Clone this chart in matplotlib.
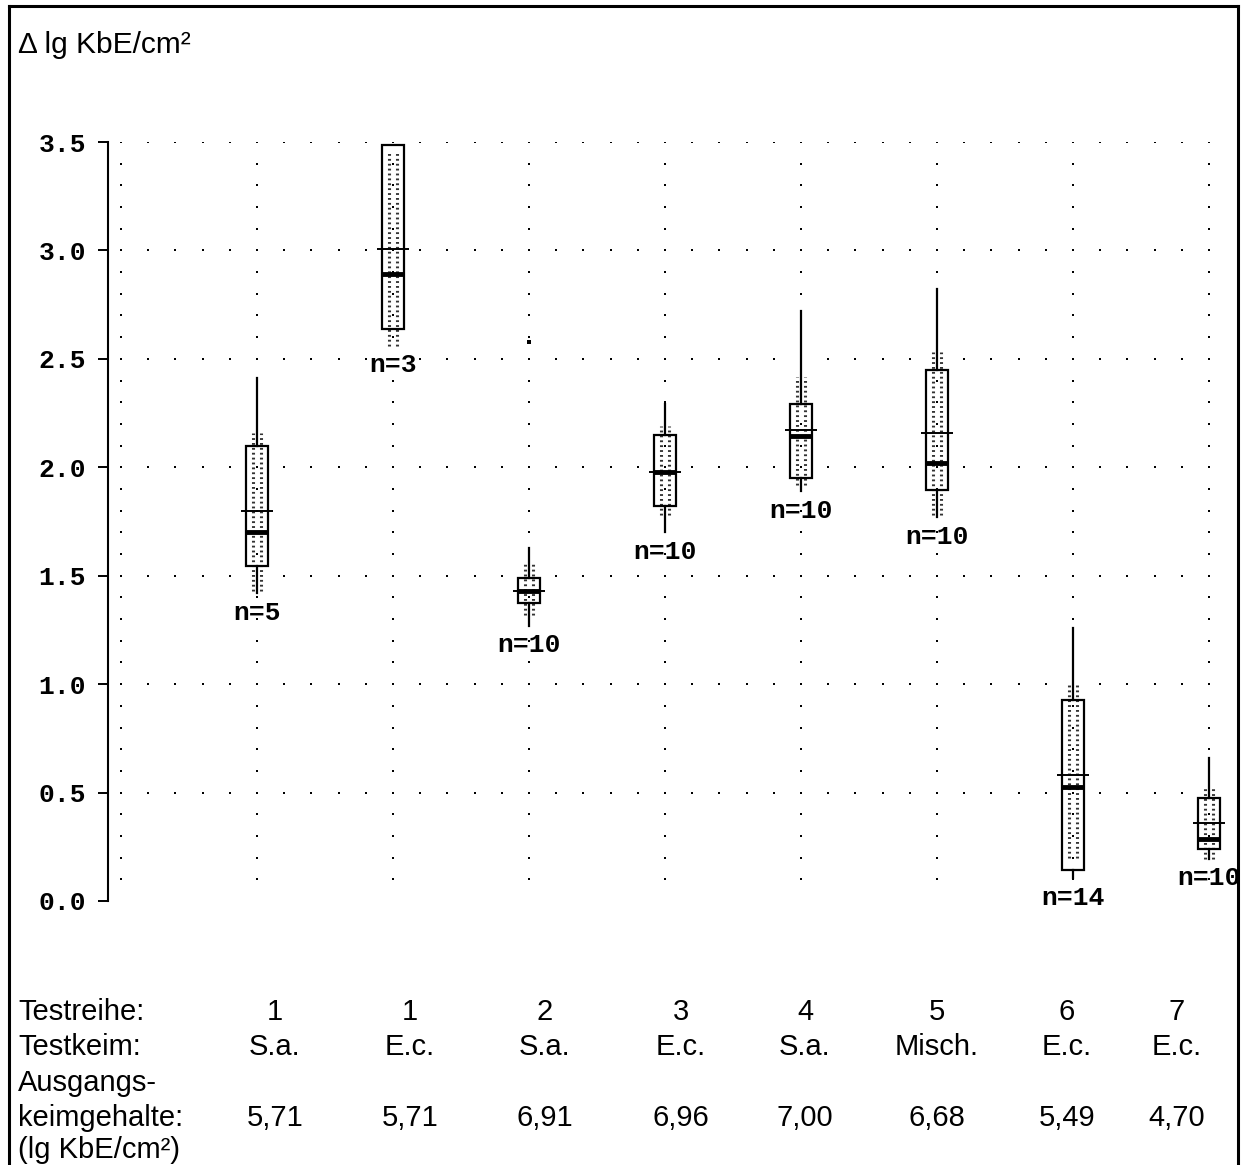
import numpy as np
import matplotlib
matplotlib.use("Agg")
import matplotlib.pyplot as plt
from matplotlib.patches import Rectangle
from matplotlib.lines import Line2D

# Daten
n_vals = [5, 3, 10, 10, 10, 10, 14, 10]
whi_hi = [2.41, 3.485, 1.63, 2.29, 2.72, 2.82, 1.26, 0.66]
box_hi = [2.10, 3.485, 1.49, 2.15, 2.29, 2.45, 0.927, 0.475]
means = [1.80, 3.005, 1.43, 1.98, 2.17, 2.16, 0.58, 0.36]
medians = [1.70, 2.89, 1.43, 1.98, 2.145, 2.02, 0.526, 0.286]
box_lo = [1.545, 2.637, 1.374, 1.82, 1.95, 1.895, 0.143, 0.24]
whi_lo = [1.42, 2.637, 1.27, 1.70, 1.89, 1.77, 0.106, 0.194]
dot_hi = [2.16, 3.45, 1.56, 2.19, 2.415, 2.53, 0.996, 0.52]
dot_lo = [1.43, 2.56, 1.32, 1.78, 1.92, 1.78, 0.20, 0.194]
outlier_x = [3]
outlier_y = [2.58]

testreihe = ["1", "1", "2", "3", "4", "5", "6", "7"]
testkeim = ["S.a.", "E.c.", "S.a.", "E.c.", "S.a.", "Misch.", "E.c.", "E.c."]
ausgang = ["5,71", "5,71", "6,91", "6,96", "7,00", "6,68", "5,49", "4,70"]
yticks = [0.0, 0.5, 1.0, 1.5, 2.0, 2.5, 3.0, 3.5]

W, H = 1241, 1165
fig = plt.figure(figsize=(W / 100, H / 100), dpi=100)

def fx(px):
    return px / W

def fy(py):
    return 1 - py / H

# Achse: Pixel 108..1236 horizontal, 142..901 vertikal
L, R, T, B = 108, 1236, 142, 901
ax = fig.add_axes([fx(L), fy(B), (R - L) / W, (B - T) / H])
ax.set_xlim(1 + (L - 257) / 136, 1 + (R - 257) / 136)
ax.set_ylim(0, 3.5)
for s in ["top", "right", "bottom"]:
    ax.spines[s].set_visible(False)
ax.spines["left"].set_linewidth(1.5)
ax.set_xticks([])
ax.set_yticks(yticks)
ax.set_yticklabels([f"{v:.1f}" for v in yticks])
ax.tick_params(axis="y", direction="out", length=7.2, width=1.4, pad=8.5)
for lab in ax.get_yticklabels():
    lab.set_fontfamily("Liberation Mono")
    lab.set_fontweight("bold")
    lab.set_fontsize(19)

# Punktraster
gx = np.arange(0, 8.01, 0.2)
for gy in np.arange(0.5, 3.51, 0.5):
    ax.scatter(gx, np.full_like(gx, gy), s=3, c="black", marker="s", lw=0, zorder=1)
cy = np.arange(0.1, 3.51, 0.1)
for cx in range(0, 9):
    ax.scatter(np.full_like(cy, cx), cy, s=3, c="black", marker="s", lw=0, zorder=1)

# Boxplots
bw = 0.16
for i in range(len(n_vals)):
    x = i + 1
    ax.plot([x, x], [box_hi[i], whi_hi[i]], color="black", lw=1.6, zorder=3)
    ax.plot([x, x], [whi_lo[i], box_lo[i]], color="black", lw=1.6, zorder=3)
    for off in (-0.032, 0.032):
        ax.plot([x + off, x + off], [dot_lo[i], dot_hi[i]], color="#333333",
                lw=2.2, linestyle=(0, (0.6, 1.0)), zorder=2)
    ax.add_patch(Rectangle((x - bw / 2, box_lo[i]), bw, box_hi[i] - box_lo[i],
                           fill=False, edgecolor="black", lw=1.6, zorder=4))
    ax.plot([x - bw / 2, x + bw / 2], [medians[i], medians[i]], color="black",
            lw=3.5, solid_capstyle="butt", zorder=5)
    ax.plot([x - 0.115, x + 0.115], [means[i], means[i]], color="black",
            lw=1.4, solid_capstyle="butt", zorder=5)
    ax.text(x, min(whi_lo[i], dot_lo[i]) - 0.09, f"n={n_vals[i]}", ha="center",
            va="center", family="Liberation Mono", fontweight="bold",
            fontsize=19, clip_on=False, zorder=6)

ax.scatter(outlier_x, outlier_y, s=8, c="black", marker="s", lw=0, zorder=5)

# Titel
fig.text(fx(18), fy(53), "\u0394 lg KbE/cm\u00b2", family="Liberation Sans",
         fontsize=21.5, ha="left", va="baseline")

# Tabelle unten
row_y = [1012, 1047, 1083, 1118, 1150]
col_x = [275, 410, 545, 681, 805, 937, 1067, 1177]
txt = dict(family="Liberation Sans", fontsize=21, va="center")
fig.text(fx(18), fy(row_y[0]), "Testreihe:", ha="left", **txt)
fig.text(fx(18), fy(row_y[1]), "Testkeim:", ha="left", **txt)
fig.text(fx(18), fy(row_y[2]), "Ausgangs-", ha="left", **txt)
fig.text(fx(18), fy(row_y[3]), "keimgehalte:", ha="left", **txt)
fig.text(fx(18), fy(row_y[4]), "(lg KbE/cm\u00b2)", ha="left", **txt)
for k in range(len(testreihe)):
    fig.text(fx(col_x[k]), fy(row_y[0]), testreihe[k], ha="center", **txt)
    fig.text(fx(col_x[k]), fy(row_y[1]), testkeim[k], ha="center", **txt)
    fig.text(fx(col_x[k]), fy(row_y[3]), ausgang[k], ha="center", **txt)

# Rahmen
for (x0, y0, x1, y1) in [(9, 1165, 9, 6), (9, 6, 1238, 6), (1238, 6, 1238, 1165)]:
    fig.add_artist(Line2D([fx(x0), fx(x1)], [fy(y0), fy(y1)], color="black", lw=2.2))

fig.savefig("out.png", dpi=100)
